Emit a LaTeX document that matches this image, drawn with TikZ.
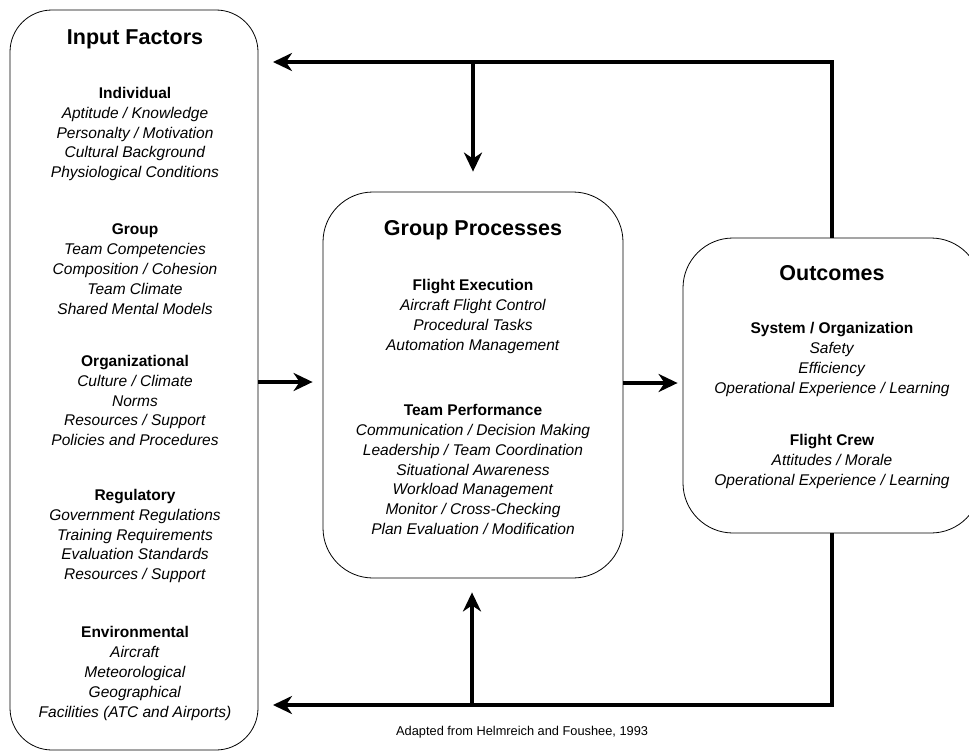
\documentclass[tikz,border=0pt]{standalone}
\usepackage{fontspec}
\setmainfont{Liberation Sans}
\usetikzlibrary{arrows.meta}
\begin{document}
\begin{tikzpicture}[x=1pt,y=1pt,
  box/.style={draw, line width=0.8pt, rounded corners=#1, inner sep=0pt},
  box/.default=50pt,
  ttl/.style={font=\fontsize{21.5}{24}\selectfont\bfseries, inner sep=0pt},
  sec/.style={align=center, font=\fontsize{15.5}{19.9}\selectfont, inner sep=0pt},
  capt/.style={font=\fontsize{12.8}{15}\selectfont, inner sep=0pt},
  fb/.style={line width=3.3pt, -{Stealth[length=19pt,width=18pt,inset=6pt]}}]
\useasboundingbox (0,0) rectangle (969,-752);
\clip (0,0) rectangle (969,-752);
% boxes
\node[box=42pt, minimum width=248pt, minimum height=740pt] (inp) at (134,-380) {};
\node[box=50pt, minimum width=300pt, minimum height=386pt] (grp) at (473,-385) {};
\node[box=50pt, minimum width=298pt, minimum height=295pt] (out) at (832,-385.5) {};
% titles
\node[ttl] (inpT) at (135,-39) {Input Factors};
\node[ttl] (grpT) at (473,-230) {Group Processes};
\node[ttl] (outT) at (832,-273) {Outcomes};
% input sections
\node[sec] (s1) at (135,-134) {\textbf{Individual}\\\textit{Aptitude / Knowledge}\\\textit{Personalty / Motivation}\\\textit{Cultural Background}\\\textit{Physiological Conditions}};
\node[sec] (s2) at (135,-269) {\textbf{Group}\\\textit{Team Competencies}\\\textit{Composition / Cohesion}\\\textit{Team Climate}\\\textit{Shared Mental Models}};
\node[sec] (s3) at (135,-400.5) {\textbf{Organizational}\\\textit{Culture / Climate}\\\textit{Norms}\\\textit{Resources / Support}\\\textit{Policies and Procedures}};
\node[sec] (s4) at (135,-536) {\textbf{Regulatory}\\\textit{Government Regulations}\\\textit{Training Requirements}\\\textit{Evaluation Standards}\\\textit{Resources / Support}};
\node[sec] (s5) at (135,-673.5) {\textbf{Environmental}\\\textit{Aircraft}\\\textit{Meteorological}\\\textit{Geographical}\\\textit{Facilities (ATC and Airports)}};
% group processes sections
\node[sec] (g1) at (473,-316.5) {\textbf{Flight Execution}\\\textit{Aircraft Flight Control}\\\textit{Procedural Tasks}\\\textit{Automation Management}};
\node[sec] (g2) at (473,-469.5) {\textbf{Team Performance}\\\textit{Communication / Decision Making}\\\textit{Leadership / Team Coordination}\\\textit{Situational Awareness}\\\textit{Workload Management}\\\textit{Monitor / Cross-Checking}\\\textit{Plan Evaluation / Modification}};
% outcome sections
\node[sec] (o1) at (832,-359.5) {\textbf{System / Organization}\\\textit{Safety}\\\textit{Efficiency}\\\textit{Operational Experience / Learning}};
\node[sec] (o2) at (832,-461.5) {\textbf{Flight Crew}\\\textit{Attitudes / Morale}\\\textit{Operational Experience / Learning}};
% caption
\node[capt, anchor=west] (cap) at (396,-732) {Adapted from Helmreich and Foushee, 1993};
% connectors
\coordinate (ta) at (273,-62);
\coordinate (tm) at (473,-62);
\coordinate (ba) at (273,-705);
\coordinate (bm) at (472,-705);
\draw[fb] ([yshift=-2pt]inp.east) -- ([xshift=-10pt,yshift=3pt]grp.west);
\draw[fb] ([yshift=2pt]grp.east) -- ([xshift=-5pt,yshift=2.5pt]out.west);
\draw[fb] (out.north) |- (ta);
\draw[fb, shorten >=20pt] (tm) -- (grp.north);
\draw[fb] (out.south) |- (ba);
\draw[fb, shorten >=14pt] (bm) -- (bm |- grp.south);
\end{tikzpicture}
\end{document}
